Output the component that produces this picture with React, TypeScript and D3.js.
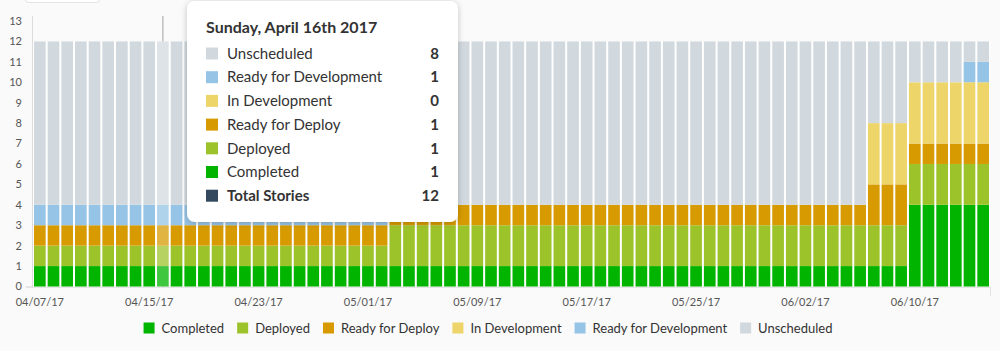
import { useEffect, useRef } from "react"
import * as d3 from "d3"

// one bar per day, starting 04/07/17
const startDate = "2017-04-07"
const dayCount = 70

const seriesNames = ["Completed", "Deployed", "Ready for Deploy", "In Development", "Ready for Development", "Unscheduled"]
const seriesColors = ["#00b400", "#9dc32b", "#d79a00", "#edd56a", "#96c4e6", "#d1d9de"]

const completed = [
  1, 1, 1, 1, 1, 1, 1, 1, 1, 1,
  1, 1, 1, 1, 1, 1, 1, 1, 1, 1,
  1, 1, 1, 1, 1, 1, 1, 1, 1, 1,
  1, 1, 1, 1, 1, 1, 1, 1, 1, 1,
  1, 1, 1, 1, 1, 1, 1, 1, 1, 1,
  1, 1, 1, 1, 1, 1, 1, 1, 1, 1,
  1, 1, 1, 1, 4, 4, 4, 4, 4, 4,
]
const deployed = [
  1, 1, 1, 1, 1, 1, 1, 1, 1, 1,
  1, 1, 1, 1, 1, 1, 1, 1, 1, 1,
  1, 1, 1, 1, 1, 1, 2, 2, 2, 2,
  2, 2, 2, 2, 2, 2, 2, 2, 2, 2,
  2, 2, 2, 2, 2, 2, 2, 2, 2, 2,
  2, 2, 2, 2, 2, 2, 2, 2, 2, 2,
  2, 2, 2, 2, 2, 2, 2, 2, 2, 2,
]
const readyForDeploy = [
  1, 1, 1, 1, 1, 1, 1, 1, 1, 1,
  1, 1, 1, 1, 1, 1, 1, 1, 1, 1,
  1, 1, 1, 1, 1, 1, 1, 1, 1, 1,
  1, 1, 1, 1, 1, 1, 1, 1, 1, 1,
  1, 1, 1, 1, 1, 1, 1, 1, 1, 1,
  1, 1, 1, 1, 1, 1, 1, 1, 1, 1,
  1, 2, 2, 2, 1, 1, 1, 1, 1, 1,
]
const inDevelopment = [
  0, 0, 0, 0, 0, 0, 0, 0, 0, 0,
  0, 0, 0, 0, 0, 0, 0, 0, 0, 0,
  0, 0, 0, 0, 0, 0, 0, 0, 0, 0,
  0, 0, 0, 0, 0, 0, 0, 0, 0, 0,
  0, 0, 0, 0, 0, 0, 0, 0, 0, 0,
  0, 0, 0, 0, 0, 0, 0, 0, 0, 0,
  0, 3, 3, 3, 3, 3, 3, 3, 3, 3,
]
const readyForDevelopment = [
  1, 1, 1, 1, 1, 1, 1, 1, 1, 1,
  1, 1, 1, 1, 1, 1, 1, 1, 1, 1,
  1, 1, 1, 1, 1, 1, 0, 0, 0, 0,
  0, 0, 0, 0, 0, 0, 0, 0, 0, 0,
  0, 0, 0, 0, 0, 0, 0, 0, 0, 0,
  0, 0, 0, 0, 0, 0, 0, 0, 0, 0,
  0, 0, 0, 0, 0, 0, 0, 0, 1, 1,
]
const unscheduled = [
  8, 8, 8, 8, 8, 8, 8, 8, 8, 8,
  8, 8, 8, 8, 8, 8, 8, 8, 8, 8,
  8, 8, 8, 8, 8, 8, 8, 8, 8, 8,
  8, 8, 8, 8, 8, 8, 8, 8, 8, 8,
  8, 8, 8, 8, 8, 8, 8, 8, 8, 8,
  8, 8, 8, 8, 8, 8, 8, 8, 8, 8,
  8, 4, 4, 4, 2, 2, 2, 2, 1, 1,
]

const yTicks = [0, 1, 2, 3, 4, 5, 6, 7, 8, 9, 10, 11, 12, 13]
const xTickLabels = ["04/07/17", "04/15/17", "04/23/17", "05/01/17", "05/09/17", "05/17/17", "05/25/17", "06/02/17", "06/10/17"]

// the day under the mouse in the reference
const hoverIndex = 9

const FONT = "Lato, 'Open Sans', sans-serif"

export default function App() {
  const svgRef = useRef<SVGSVGElement>(null)

  useEffect(() => {
    if (!svgRef.current) return
    const root = d3.select(svgRef.current)
    root.selectAll("*").remove()

    const width = 1000
    const height = 351
    const start = d3.timeParse("%Y-%m-%d")(startDate) as Date
    const days = d3.range(dayCount).map((i) => d3.timeDay.offset(start, i))
    const values = [completed, deployed, readyForDeploy, inDevelopment, readyForDevelopment, unscheduled]
    const rows = days.map((d, i) => {
      const r: any = { date: d, index: i }
      seriesNames.forEach((name, k) => (r[name] = values[k][i]))
      return r
    })
    const stacked = d3.stack<any>().keys(seriesNames)(rows)

    const x = d3.scaleBand<number>().domain(d3.range(dayCount)).range([33, 990]).padding(0)
    const y = d3.scaleLinear().domain([0, 13]).range([286.5, 21])
    const bw = x.bandwidth()

    root.append("rect").attr("width", width).attr("height", height).attr("fill", "#fafafa")

    // bit of the card above
    root
      .append("rect")
      .attr("x", 25)
      .attr("y", -10)
      .attr("width", 75)
      .attr("height", 12.5)
      .attr("rx", 4)
      .attr("fill", "#fff")
      .attr("stroke", "#e3e3e3")

    const defs = root.append("defs")
    const filter = defs.append("filter").attr("id", "tipShadow").attr("x", "-10%").attr("y", "-10%").attr("width", "120%").attr("height", "130%")
    filter
      .append("feDropShadow")
      .attr("dx", 0)
      .attr("dy", 1)
      .attr("stdDeviation", 3)
      .attr("flood-color", "#000")
      .attr("flood-opacity", 0.22)

    // axis lines
    root.append("line").attr("x1", 32.5).attr("x2", 32.5).attr("y1", 16).attr("y2", 287).attr("stroke", "#dcdcdc")
    root.append("line").attr("x1", 26).attr("x2", 990).attr("y1", 287).attr("y2", 287).attr("stroke", "#d0d0d0")
    root.append("line").attr("x1", 990.5).attr("x2", 990.5).attr("y1", 287).attr("y2", 296).attr("stroke", "#e3e3e3")

    // hover crosshair
    const cx = (x(hoverIndex) as number) + bw / 2
    root.append("line").attr("x1", cx).attr("x2", cx).attr("y1", 16).attr("y2", 287).attr("stroke", "#a0a0a0")

    // y labels
    root
      .append("g")
      .selectAll("text")
      .data(yTicks)
      .enter()
      .append("text")
      .attr("x", 22)
      .attr("y", (d) => y(d))
      .attr("dy", "0.35em")
      .attr("text-anchor", "end")
      .style("font-family", FONT)
      .style("font-size", "11px")
      .attr("fill", "#555")
      .text((d) => d)

    // x labels every 8th day
    root
      .append("g")
      .selectAll("text")
      .data(xTickLabels)
      .enter()
      .append("text")
      .attr("x", (d, i) => (x(i * 8) as number) + bw / 2)
      .attr("y", 306)
      .attr("text-anchor", "middle")
      .style("font-family", FONT)
      .style("font-size", "11px")
      .attr("fill", "#555")
      .text((d) => d)

    // white backing behind each day's stack
    const top = stacked[stacked.length - 1]
    root
      .append("g")
      .selectAll("rect")
      .data(top)
      .enter()
      .append("rect")
      .attr("x", (d: any) => x(d.data.index) as number)
      .attr("width", bw)
      .attr("y", (d: any) => y(d[1]))
      .attr("height", (d: any) => y(0) - y(d[1]))
      .attr("fill", "#fff")

    // stacked bars
    root
      .append("g")
      .selectAll("g")
      .data(stacked)
      .enter()
      .append("g")
      .attr("fill", (d, k) => seriesColors[k])
      .selectAll("rect")
      .data((d) => d)
      .enter()
      .append("rect")
      .attr("x", (d: any) => (x(d.data.index) as number) + 1)
      .attr("width", bw - 2)
      .attr("y", (d: any) => y(d[1]))
      .attr("height", (d: any) => y(d[0]) - y(d[1]))
      .attr("opacity", (d: any) => (d.data.index === hoverIndex ? 0.75 : 1))

    // tooltip
    const tip = root.append("g").attr("transform", "translate(187,1)")
    tip
      .append("rect")
      .attr("width", 271)
      .attr("height", 221)
      .attr("rx", 8)
      .attr("fill", "#fff")
      .attr("filter", "url(#tipShadow)")

    const hovered = rows[hoverIndex]
    const dayNum = hovered.date.getDate()
    const suffix = dayNum % 10 === 1 && dayNum !== 11 ? "st" : dayNum % 10 === 2 && dayNum !== 12 ? "nd" : dayNum % 10 === 3 && dayNum !== 13 ? "rd" : "th"
    const title = d3.timeFormat("%A, %B %-d")(hovered.date) + suffix + d3.timeFormat(" %Y")(hovered.date)

    tip
      .append("text")
      .attr("x", 19)
      .attr("y", 32)
      .style("font-family", FONT)
      .style("font-size", "16px")
      .style("font-weight", "bold")
      .attr("fill", "#333")
      .text(title)

    const tipRows = seriesNames
      .map((name, k) => ({ name, color: seriesColors[k], value: hovered[name], bold: false }))
      .reverse()
    tipRows.push({
      name: "Total Stories",
      color: "#34495e",
      value: d3.sum(seriesNames, (n) => hovered[n]),
      bold: true,
    })

    const rowG = tip
      .selectAll(".tip-row")
      .data(tipRows)
      .enter()
      .append("g")
      .attr("class", "tip-row")
      .attr("transform", (d, i) => `translate(0,${52.5 + i * 23.7})`)
    rowG.append("rect").attr("x", 19).attr("y", -6).attr("width", 12).attr("height", 12).attr("fill", (d) => d.color)
    rowG
      .append("text")
      .attr("x", 40)
      .attr("dy", "0.35em")
      .style("font-family", FONT)
      .style("font-size", "15px")
      .style("font-weight", (d) => (d.bold ? "bold" : "normal"))
      .attr("fill", "#333")
      .text((d) => d.name)
    rowG
      .append("text")
      .attr("x", 252)
      .attr("dy", "0.35em")
      .attr("text-anchor", "end")
      .style("font-family", FONT)
      .style("font-size", "15px")
      .style("font-weight", "bold")
      .attr("fill", "#333")
      .text((d) => d.value)

    // legend, centred under the plot
    const legend = root.append("g").attr("transform", "translate(0,328)")
    const items = legend
      .selectAll("g")
      .data(seriesNames)
      .enter()
      .append("g")
    items.append("rect").attr("y", -5.5).attr("width", 11).attr("height", 11).attr("fill", (d, k) => seriesColors[k])
    items
      .append("text")
      .attr("x", 18)
      .attr("dy", "0.35em")
      .style("font-family", FONT)
      .style("font-size", "13px")
      .attr("fill", "#333")
      .text((d) => d)
    const widths: number[] = []
    items.each(function () {
      const t = d3.select(this).select("text").node() as SVGTextElement
      widths.push(18 + t.getComputedTextLength())
    })
    const gap = 13
    const total = d3.sum(widths) + gap * (widths.length - 1)
    let cursor = 488 - total / 2
    items.attr("transform", (d, k) => {
      const t = `translate(${cursor},0)`
      cursor += widths[k] + gap
      return t
    })
  }, [])

  return (
    <svg
      ref={svgRef}
      width={1000}
      height={351}
      style={{ position: "fixed", left: 0, top: 0, display: "block" }}
    ></svg>
  )
}
